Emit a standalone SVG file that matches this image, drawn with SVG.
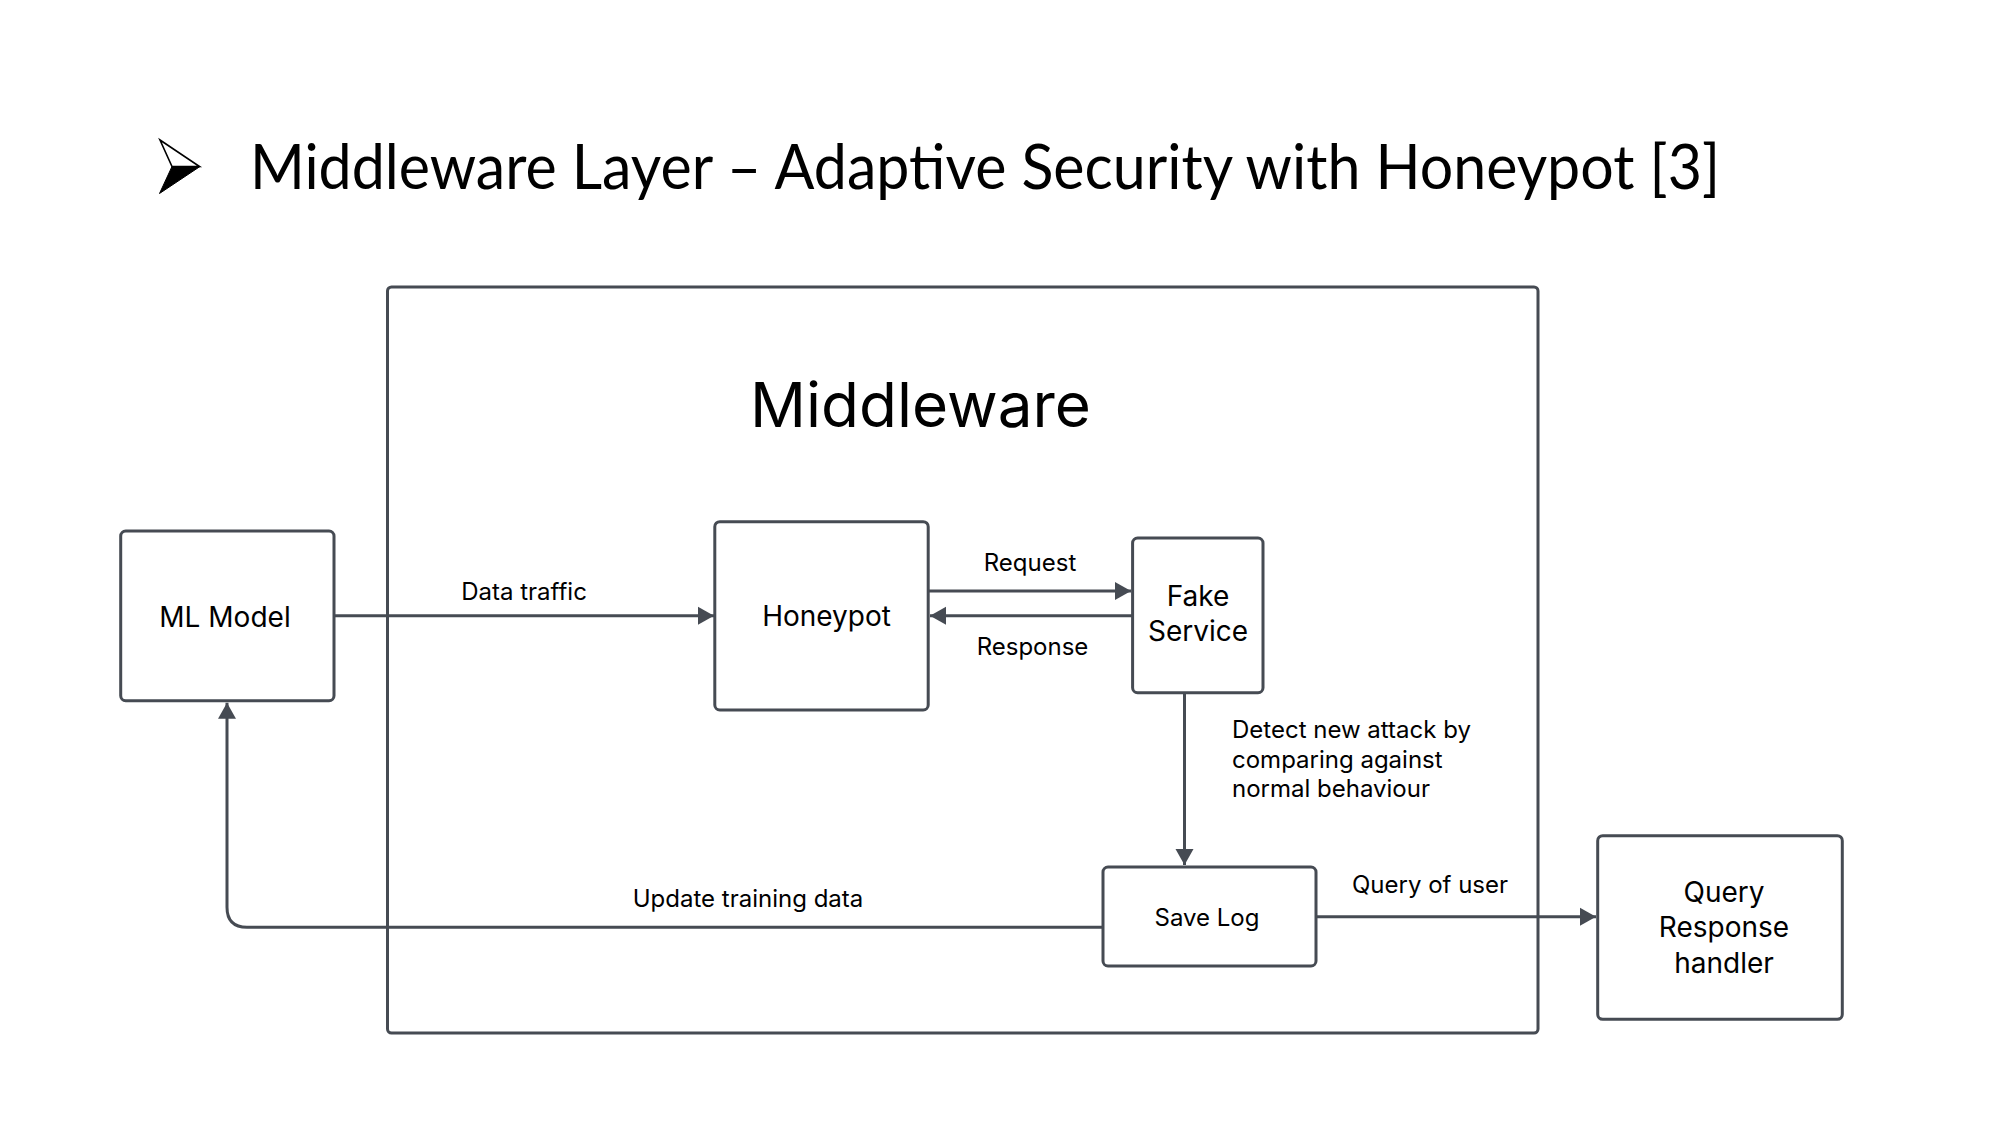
<svg xmlns="http://www.w3.org/2000/svg" width="2000" height="1125" viewBox="0 0 2000 1125">
<style>
.node{fill:#ffffff;stroke:#464b53;stroke-width:3}
.conn{fill:none;stroke:#464b53;stroke-width:3}
.nt{font-family:Inter,"Noto Sans",sans-serif;font-size:28px;fill:#000;text-anchor:middle}
.sm{font-size:24px}
.lt{font-family:Inter,"Noto Sans",sans-serif;font-size:24px;fill:#000}
.mid{text-anchor:middle}
</style>
<defs>
<marker id="arr" markerUnits="userSpaceOnUse" markerWidth="18" markerHeight="20" refX="16" refY="9" orient="auto" viewBox="0 0 18 18">
<path d="M0,0 L16,9 L0,18 z" fill="#464b53"/>
</marker>
</defs>
<rect width="2000" height="1125" fill="#ffffff"/>
<g id="title">
<g id="bullet">
<polygon points="160,140 199.5,166.5 172,166.5" fill="#ffffff" stroke="#000" stroke-width="1.6" stroke-linejoin="miter"/>
<polygon points="172,166.5 200,166.5 159.5,193.5" fill="#000" stroke="#000" stroke-width="1"/>
</g>
<text x="250" y="189" font-family="Lato,'Open Sans',sans-serif" font-size="62" fill="#000" textLength="1470" lengthAdjust="spacingAndGlyphs">Middleware Layer – Adaptive Security with Honeypot [3]</text>
</g>
<g id="middleware">
<rect class="node" x="387.5" y="287" width="1150.5" height="746" rx="4" fill="none"/>
<text x="920.5" y="427" font-family="Inter,'Noto Sans',sans-serif" font-size="62" fill="#000" text-anchor="middle">Middleware</text>
</g>
<g id="connectors">
<line class="conn" x1="334" y1="615.7" x2="714" y2="615.7" marker-end="url(#arr)"/>
<line class="conn" x1="928" y1="591" x2="1131" y2="591" marker-end="url(#arr)"/>
<line class="conn" x1="1132.6" y1="615.7" x2="930" y2="615.7" marker-end="url(#arr)"/>
<line class="conn" x1="1184.5" y1="692.7" x2="1184.5" y2="865" marker-end="url(#arr)"/>
<path class="conn" d="M1103,927.3 H247 Q227,927.3 227,907.3 V702.7" marker-end="url(#arr)"/>
<line class="conn" x1="1316" y1="916.7" x2="1596" y2="916.7" marker-end="url(#arr)"/>
<text class="lt mid" x="524" y="600">Data traffic</text>
<text class="lt mid" x="1030" y="571">Request</text>
<text class="lt mid" x="1032.5" y="655">Response</text>
<text class="lt" x="1232" y="738">Detect new attack by</text>
<text class="lt" x="1232" y="768">comparing against</text>
<text class="lt" x="1232" y="797">normal behaviour</text>
<text class="lt mid" x="748" y="907">Update training data</text>
<text class="lt mid" x="1430" y="893">Query of user</text>
</g>
<g id="ml-model">
<rect class="node" x="120.7" y="531" width="213.3" height="169.7" rx="5"/>
<text class="nt" x="225" y="627">ML Model</text>
</g>
<g id="honeypot">
<rect class="node" x="714.8" y="521.7" width="213.4" height="188.3" rx="5"/>
<text class="nt" x="826.5" y="626">Honeypot</text>
</g>
<g id="fake-service">
<rect class="node" x="1132.6" y="538" width="130.4" height="154.7" rx="5"/>
<text class="nt" x="1198" y="606">Fake</text>
<text class="nt" x="1198" y="641">Service</text>
</g>
<g id="save-log">
<rect class="node" x="1103" y="867" width="213" height="99" rx="5"/>
<text class="nt sm" x="1207" y="926">Save Log</text>
</g>
<g id="query-handler">
<rect class="node" x="1597.7" y="835.7" width="244.6" height="183.6" rx="5"/>
<text class="nt" x="1724" y="902">Query</text>
<text class="nt" x="1724" y="937">Response</text>
<text class="nt" x="1724" y="973">handler</text>
</g>
</svg>
